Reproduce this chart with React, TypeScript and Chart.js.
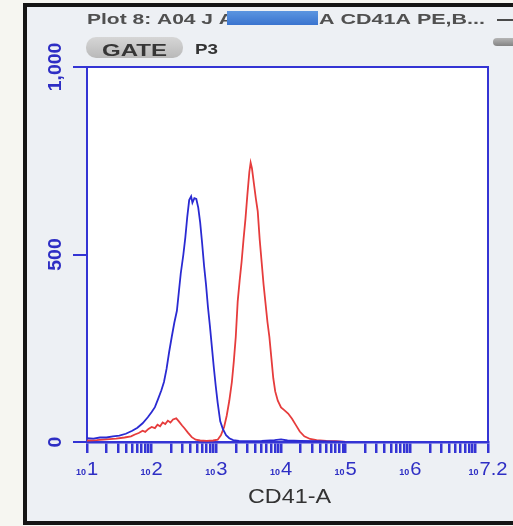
import React, { useEffect, useRef } from "react";
import { Chart, registerables } from "chart.js";

Chart.register(...registerables);

// ---- data (x in decades of log10 CD41-A, y = count) ----
const blueLog = [1.0, 1.1, 1.2, 1.3, 1.4, 1.5, 1.6, 1.7, 1.78, 1.86, 1.94, 2.0, 2.05, 2.1, 2.15, 2.19, 2.23, 2.27, 2.31, 2.35, 2.39, 2.42, 2.45, 2.49, 2.52, 2.55, 2.58, 2.61, 2.63, 2.66, 2.69, 2.72, 2.75, 2.78, 2.81, 2.84, 2.87, 2.9, 2.93, 2.96, 2.99, 3.02, 3.06, 3.1, 3.15, 3.2, 3.26, 3.35, 3.5, 3.7, 3.9, 4.0, 4.1, 4.3, 4.6, 4.9, 5.0];
const blueCount = [10, 9, 12, 12, 15, 17, 22, 30, 38, 50, 66, 80, 93, 115, 138, 160, 195, 240, 280, 318, 350, 400, 450, 500, 545, 600, 645, 655, 638, 650, 648, 625, 585, 530, 470, 420, 360, 310, 255, 200, 150, 105, 55, 35, 18, 10, 5, 3, 2, 3, 5, 7, 4, 3, 2, 1, 0];

const redLog = [1.0, 1.15, 1.3, 1.45, 1.58, 1.68, 1.74, 1.8, 1.86, 1.9, 1.95, 2.0, 2.05, 2.09, 2.13, 2.17, 2.21, 2.25, 2.29, 2.33, 2.38, 2.42, 2.47, 2.51, 2.56, 2.62, 2.68, 2.75, 2.85, 2.95, 3.02, 3.07, 3.12, 3.16, 3.2, 3.24, 3.27, 3.3, 3.33, 3.36, 3.39, 3.42, 3.45, 3.48, 3.51, 3.53, 3.55, 3.58, 3.61, 3.64, 3.67, 3.7, 3.73, 3.76, 3.79, 3.82, 3.85, 3.88, 3.91, 3.95, 4.0, 4.05, 4.11, 4.17, 4.23, 4.29, 4.36, 4.45, 4.55, 4.7, 4.85, 5.0];
const redCount = [4, 5, 7, 9, 12, 15, 20, 24, 30, 27, 35, 40, 37, 46, 42, 52, 48, 57, 52, 60, 63, 55, 44, 36, 25, 13, 6, 4, 3, 4, 6, 18, 40, 70, 110, 160, 215, 280, 375, 430, 480, 540, 595, 660, 720, 745, 730, 690, 650, 615, 540, 480, 420, 370, 320, 280, 225, 170, 135, 110, 92, 85, 76, 62, 45, 28, 15, 8, 5, 3, 2, 0];

// ---- axes / texts ----
const xDecades = [1, 2, 3, 4, 5, 6, 7.2];
const xExponents = ["1", "2", "3", "4", "5", "6", "7.2"];
const minorMultipliers = [1, 2, 3, 4, 5, 6, 7, 8, 9];
const xMin = 1;
const xMax = 7.2;
const yTickValues = [0, 500, 1000];
const yTickLabels = ["0", "500", "1,000"];
const titleLeft = "Plot 8: A04 J A";
const titleRight = "A CD41A PE,B...";
const gateText = "GATE";
const gateName = "P3";
const xAxisTitle = "CD41-A";

const OX = 27;
const OY = 7;
const AXIS_BLUE = "#3434d4";
const LABEL_BLUE = "#2e2ec4";
const FONT = "'Liberation Sans', Arial, sans-serif";

function fitText(
  ctx: CanvasRenderingContext2D,
  text: string,
  x: number,
  y: number,
  width: number,
  font: string,
  color: string,
  align: "left" | "center" | "right" = "left"
) {
  ctx.save();
  ctx.font = font;
  ctx.fillStyle = color;
  ctx.textBaseline = "alphabetic";
  ctx.textAlign = "left";
  const m = ctx.measureText(text).width;
  const s = width / m;
  ctx.translate(x, y);
  ctx.scale(s, 1);
  const x0 = align === "center" ? -m / 2 : align === "right" ? -m : 0;
  ctx.fillText(text, x0, 0);
  ctx.restore();
}

function roundRect(ctx: CanvasRenderingContext2D, x: number, y: number, w: number, h: number, r: number) {
  ctx.beginPath();
  ctx.moveTo(x + r, y);
  ctx.lineTo(x + w - r, y);
  ctx.arcTo(x + w, y, x + w, y + r, r);
  ctx.lineTo(x + w, y + h - r);
  ctx.arcTo(x + w, y + h, x + w - r, y + h, r);
  ctx.lineTo(x + r, y + h);
  ctx.arcTo(x, y + h, x, y + h - r, r);
  ctx.lineTo(x, y + r);
  ctx.arcTo(x, y, x + r, y, r);
  ctx.closePath();
}

export default function App() {
  const ref = useRef<HTMLCanvasElement>(null);

  useEffect(() => {
    const canvas = ref.current!;
    const minorTicks: number[] = [];
    for (let n = 1; n <= 7; n++) {
      for (const k of minorMultipliers) {
        const v = n + Math.log10(k);
        if (v <= xMax + 1e-9) minorTicks.push(v);
      }
    }
    minorTicks.push(xMax);

    const overlay = {
      id: "flowOverlay",
      beforeDraw(chart: any) {
        const { ctx, chartArea: a } = chart;
        ctx.save();
        ctx.fillStyle = "#ffffff";
        ctx.fillRect(a.left, a.top, a.right - a.left, a.bottom - a.top);
        ctx.restore();
      },
      afterDraw(chart: any) {
        const { ctx, chartArea: a } = chart;
        const xs = chart.scales.x;
        const ys = chart.scales.y;
        ctx.save();
        // top / right border
        ctx.strokeStyle = AXIS_BLUE;
        ctx.lineWidth = 2;
        ctx.beginPath();
        ctx.moveTo(a.left, a.top);
        ctx.lineTo(a.right, a.top);
        ctx.lineTo(a.right, a.bottom);
        ctx.stroke();

        // x decade labels: small "10" + big exponent
        xDecades.forEach((v, i) => {
          const px = xs.getPixelForValue(v);
          ctx.font = `bold 9px ${FONT}`;
          const w1 = ctx.measureText("10").width;
          ctx.font = `18px ${FONT}`;
          const w2 = ctx.measureText(xExponents[i]).width * 1.12;
          const total = w1 + 1 + w2;
          const start = px - total / 2;
          const by = 475 - OY;
          fitText(ctx, "10", start, by, w1, `bold 9px ${FONT}`, LABEL_BLUE);
          fitText(ctx, xExponents[i], start + w1 + 1, by, w2, `18px ${FONT}`, LABEL_BLUE);
        });

        // y labels rotated
        yTickValues.forEach((v, i) => {
          const py = ys.getPixelForValue(v);
          ctx.save();
          ctx.translate(61 - OX, py);
          ctx.rotate(-Math.PI / 2);
          ctx.font = `bold 18px ${FONT}`;
          ctx.fillStyle = LABEL_BLUE;
          ctx.textAlign = "center";
          ctx.textBaseline = "alphabetic";
          ctx.scale(1.08, 1);
          ctx.fillText(yTickLabels[i], 0, 0);
          ctx.restore();
        });

        // x axis title
        fitText(ctx, xAxisTitle, 289.5 - OX, 503 - OY, 83, `21px ${FONT}`, "#333333", "center");

        // title line
        fitText(ctx, titleLeft, 87 - OX, 23.5 - OY, 147, `bold 14px ${FONT}`, "#505050");
        const g = ctx.createLinearGradient(0, 11 - OY, 0, 25 - OY);
        g.addColorStop(0, "#5b95e0");
        g.addColorStop(1, "#3a74cf");
        ctx.fillStyle = g;
        ctx.fillRect(227 - OX, 11 - OY, 91, 14);
        fitText(ctx, titleRight, 319 - OX, 23.5 - OY, 166, `bold 14px ${FONT}`, "#505050");
        ctx.fillStyle = "#4a4a4a";
        ctx.fillRect(497 - OX, 19 - OY, 20, 2);

        // GATE pill
        const pg = ctx.createLinearGradient(0, 37 - OY, 0, 58 - OY);
        pg.addColorStop(0, "#d6d6d6");
        pg.addColorStop(1, "#b9b9b9");
        ctx.fillStyle = pg;
        roundRect(ctx, 86 - OX, 37 - OY, 97, 21, 10);
        ctx.fill();
        fitText(ctx, gateText, 102 - OX, 55.5 - OY, 65, `bold 16px ${FONT}`, "#363636");
        fitText(ctx, gateName, 195 - OX, 53.5 - OY, 23, `bold 14px ${FONT}`, "#333333");

        // right gray pill edge
        const rg = ctx.createLinearGradient(0, 38 - OY, 0, 47 - OY);
        rg.addColorStop(0, "#b5b5b5");
        rg.addColorStop(1, "#7d7d7d");
        ctx.fillStyle = rg;
        roundRect(ctx, 493 - OX, 38 - OY, 30, 8, 4);
        ctx.fill();
        ctx.restore();
      },
    };

    const chart = new Chart(canvas, {
      type: "line",
      data: {
        datasets: [
          {
            label: "Sample",
            data: blueLog.map((x, i) => ({ x, y: blueCount[i] })),
            borderColor: "#2a2ad2",
            borderWidth: 1.8,
            pointRadius: 0,
            tension: 0,
            fill: false,
          },
          {
            label: "CD41A",
            data: redLog.map((x, i) => ({ x, y: redCount[i] })),
            borderColor: "#e63c3c",
            borderWidth: 1.8,
            pointRadius: 0,
            tension: 0,
            fill: false,
          },
        ],
      },
      options: {
        responsive: false,
        animation: false,
        devicePixelRatio: 1,
        layout: { padding: { top: 60, right: 25, left: 0, bottom: 0 } },
        plugins: { legend: { display: false }, tooltip: { enabled: false } },
        scales: {
          x: {
            type: "linear",
            min: xMin,
            max: xMax,
            afterBuildTicks: (s: any) => {
              s.ticks = minorTicks.map((v) => ({ value: v }));
            },
            afterFit: (s: any) => {
              s.height = 79;
            },
            ticks: { display: false },
            grid: { drawOnChartArea: false, drawTicks: true, tickLength: 11, color: AXIS_BLUE, lineWidth: 2.5 },
            border: { color: AXIS_BLUE, width: 2.5 },
          },
          y: {
            type: "linear",
            min: 0,
            max: 1000,
            afterBuildTicks: (s: any) => {
              s.ticks = yTickValues.map((v) => ({ value: v }));
            },
            afterFit: (s: any) => {
              s.width = 60;
            },
            ticks: { display: false },
            grid: { drawOnChartArea: false, drawTicks: true, tickLength: 14, color: AXIS_BLUE, lineWidth: 2 },
            border: { color: AXIS_BLUE, width: 2 },
          },
        },
      },
      plugins: [overlay],
    });
    return () => chart.destroy();
  }, []);

  return (
    <div
      style={{
        position: "fixed",
        left: 0,
        top: 0,
        width: 513,
        height: 526,
        overflow: "hidden",
        background: "#f6f6f1",
      }}
    >
      <div
        style={{
          position: "absolute",
          left: 23,
          top: 3,
          width: 600,
          height: 522,
          boxSizing: "border-box",
          border: "4px solid #151515",
          background: "#edf0f4",
        }}
      />
      <canvas ref={ref} width={486} height={514} style={{ position: "absolute", left: OX, top: OY, display: "block" }} />
    </div>
  );
}
